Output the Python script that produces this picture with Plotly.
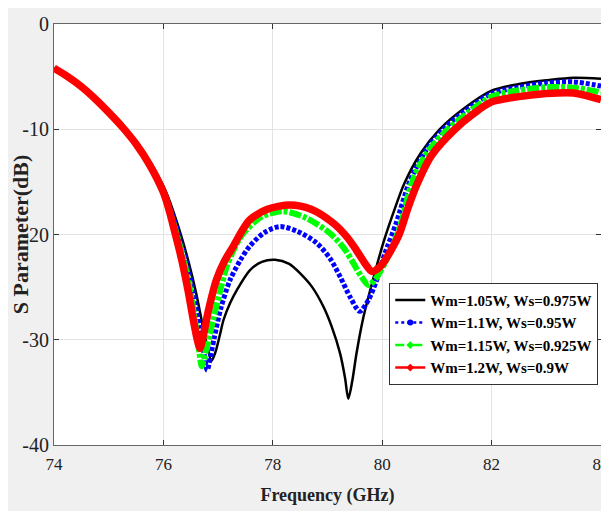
import plotly.graph_objects as go

# ---- data ----
x_black = [74, 74.25, 74.5, 74.75, 75, 75.25, 75.5, 75.75, 76.0, 76.12, 76.22, 76.33, 76.46, 76.6, 76.72, 76.8, 76.88, 76.95, 77.03, 77.1, 77.22, 77.34, 77.58, 77.8, 78.04, 78.3, 78.5, 78.72, 78.92, 79.08, 79.23, 79.32, 79.38, 79.45, 79.53, 79.65, 79.78, 80.02, 80.2, 80.4, 80.7, 81.05, 81.5, 82, 82.5, 83, 83.5, 84]
y_black = [-4.2, -5.0, -5.95, -7.1, -8.4, -9.7, -11.2, -13.0, -15.4, -16.9, -18.4, -20.2, -22.6, -25.6, -28.7, -30.6, -32.0, -31.2, -29.6, -28.1, -26.5, -25.3, -23.4, -22.6, -22.4, -22.8, -23.7, -25.0, -26.8, -28.8, -31.3, -33.6, -35.6, -34.0, -31.3, -28.0, -25.3, -20.8, -18.0, -15.2, -12.3, -10.0, -8.0, -6.33, -5.7, -5.35, -5.1, -5.2]

x_blue = [74, 74.25, 74.5, 74.75, 75, 75.25, 75.5, 75.75, 76.0, 76.1, 76.2, 76.28, 76.42, 76.55, 76.66, 76.74, 76.80, 76.86, 76.93, 77.05, 77.22, 77.4, 77.58, 77.85, 78.13, 78.45, 78.80, 79.05, 79.23, 79.42, 79.59, 79.75, 79.9, 80.05, 80.25, 80.5, 80.8, 81.12, 81.5, 82, 82.5, 83, 83.5, 84]
y_blue = [-4.2, -5.0, -5.95, -7.1, -8.4, -9.8, -11.3, -13.3, -15.8, -17.1, -18.7, -20.1, -22.6, -25.6, -28.8, -31.2, -32.9, -31.6, -29.8, -27.0, -24.3, -22.5, -21.1, -19.8, -19.25, -19.7, -20.8, -22.3, -24.0, -26.0, -27.3, -26.2, -24.3, -21.8, -19.0, -15.0, -12.0, -10.0, -8.3, -6.6, -6.0, -5.6, -5.5, -5.9]

x_green = [74, 74.25, 74.5, 74.75, 75, 75.25, 75.5, 75.75, 76.0, 76.12, 76.25, 76.38, 76.5, 76.6, 76.66, 76.70, 76.76, 76.83, 76.91, 77.03, 77.16, 77.3, 77.46, 77.8, 78.19, 78.6, 79.05, 79.3, 79.47, 79.62, 79.75, 79.88, 80.02, 80.2, 80.35, 80.56, 80.85, 81.2, 81.6, 82, 82.5, 83, 83.5, 84]
y_green = [-4.2, -5.0, -5.95, -7.1, -8.4, -9.8, -11.35, -13.35, -15.9, -17.8, -20.1, -22.6, -25.6, -29.0, -31.3, -32.5, -31.4, -29.9, -28.1, -25.5, -23.0, -21.3, -19.9, -18.3, -17.8, -18.4, -19.9, -21.3, -22.7, -24.0, -24.8, -24.2, -23.0, -21.0, -18.8, -14.8, -12.0, -10.0, -8.3, -6.9, -6.3, -6.0, -6.05, -6.5]

x_red = [74, 74.25, 74.5, 74.75, 75, 75.25, 75.5, 75.75, 76.0, 76.1, 76.21, 76.33, 76.45, 76.55, 76.62, 76.67, 76.73, 76.82, 76.97, 77.12, 77.28, 77.42, 77.58, 77.9, 78.31, 78.7, 79.1, 79.35, 79.53, 79.68, 79.81, 79.93, 80.02, 80.15, 80.31, 80.47, 80.63, 80.9, 81.33, 81.65, 82, 82.5, 83, 83.5, 84]
y_red = [-4.2, -5.0, -5.95, -7.1, -8.4, -9.8, -11.4, -13.4, -16.0, -17.6, -19.8, -22.3, -25.3, -28.2, -30.0, -30.8, -29.6, -27.3, -24.3, -22.5, -21.1, -19.8, -18.6, -17.6, -17.2, -17.6, -18.9, -20.2, -21.5, -22.7, -23.5, -23.2, -22.7, -21.6, -20.0, -17.5, -15.3, -12.5, -10.0, -8.6, -7.4, -6.9, -6.6, -6.55, -7.2]

names = ["Wm=1.05W, Ws=0.975W", "Wm=1.1W, Ws=0.95W", "Wm=1.15W, Ws=0.925W", "Wm=1.2W, Ws=0.9W"]

x_ticks = [74, 76, 78, 80, 82, 84]
x_labels = ["74", "76", "78", "80", "82", "84"]
y_ticks = [0, -10, -20, -30, -40]
y_labels = ["0", "-10", "-20", "-30", "-40"]

FONT = "Liberation Serif"

fig = go.Figure()

series = [
    (x_black, y_black, names[0], "#000000", "solid", 2.5, None),
    (x_blue, y_blue, names[1], "#0000ff", "4px,2px", 5, "circle"),
    (x_green, y_green, names[2], "#00ff00", "12px,2px,4px,2px", 6, "diamond"),
    (x_red, y_red, names[3], "#ff0000", "solid", 7.5, "diamond"),
]

for xs, ys, nm, col, dash, w, sym in series:
    fig.add_trace(go.Scatter(
        x=xs, y=ys, mode="lines", name=nm, showlegend=False,
        line=dict(color=col, width=w, dash=dash, shape="spline", smoothing=0.8),
    ))

# legend entries
legend_dash = {"#000000": "solid", "#0000ff": "dot", "#00ff00": "dash", "#ff0000": "solid"}
for xs, ys, nm, col, dash, w, sym in series:
    if sym is None:
        fig.add_trace(go.Scatter(x=[None], y=[None], mode="lines", name=nm,
                                 line=dict(color=col, width=2.5)))
    else:
        fig.add_trace(go.Scatter(x=[None], y=[None], mode="lines+markers", name=nm,
                                 line=dict(color=col, width=2.5, dash=legend_dash[col]),
                                 marker=dict(color=col, size=6, symbol=sym)))

axis_common = dict(
    showgrid=True, gridcolor="#e3e3e3", gridwidth=1,
    showline=True, linecolor="#666666", linewidth=1, mirror="ticks",
    ticks="inside", ticklen=5, tickcolor="#333333",
    zeroline=False, ticklabeloverflow="allow", automargin=False,
)

fig.update_layout(
    width=609, height=511,
    margin=dict(l=46, r=16, t=16, b=74),
    paper_bgcolor="#f0f0f0",
    plot_bgcolor="#ffffff",
    font=dict(family=FONT, color="#222222"),
    xaxis=dict(range=[74, 84], tickvals=x_ticks, ticktext=x_labels,
               tickfont=dict(family=FONT, size=17, color="#222222"),
               ticklabelstandoff=4,
               title=dict(text="<b>Frequency (GHz)</b>", font=dict(family=FONT, size=18, color="#222222"), standoff=14),
               **axis_common),
    yaxis=dict(range=[-40, 0], tickvals=y_ticks, ticktext=y_labels,
               tickfont=dict(family=FONT, size=20, color="#222222"),
               title=dict(text="<b>S Parameter(dB)</b>", font=dict(family=FONT, size=22, color="#222222"), standoff=0),
               **axis_common),
    legend=dict(
        x=0.995, y=0.143, xanchor="right", yanchor="bottom",
        bgcolor="#ffffff", bordercolor="#333333", borderwidth=1,
        font=dict(family=FONT, size=15, color="#000000", weight="bold"),
        itemwidth=30, tracegroupgap=0,
    ),
)

fig.write_html("out.html", post_script="document.body.style.overflow='hidden';")
